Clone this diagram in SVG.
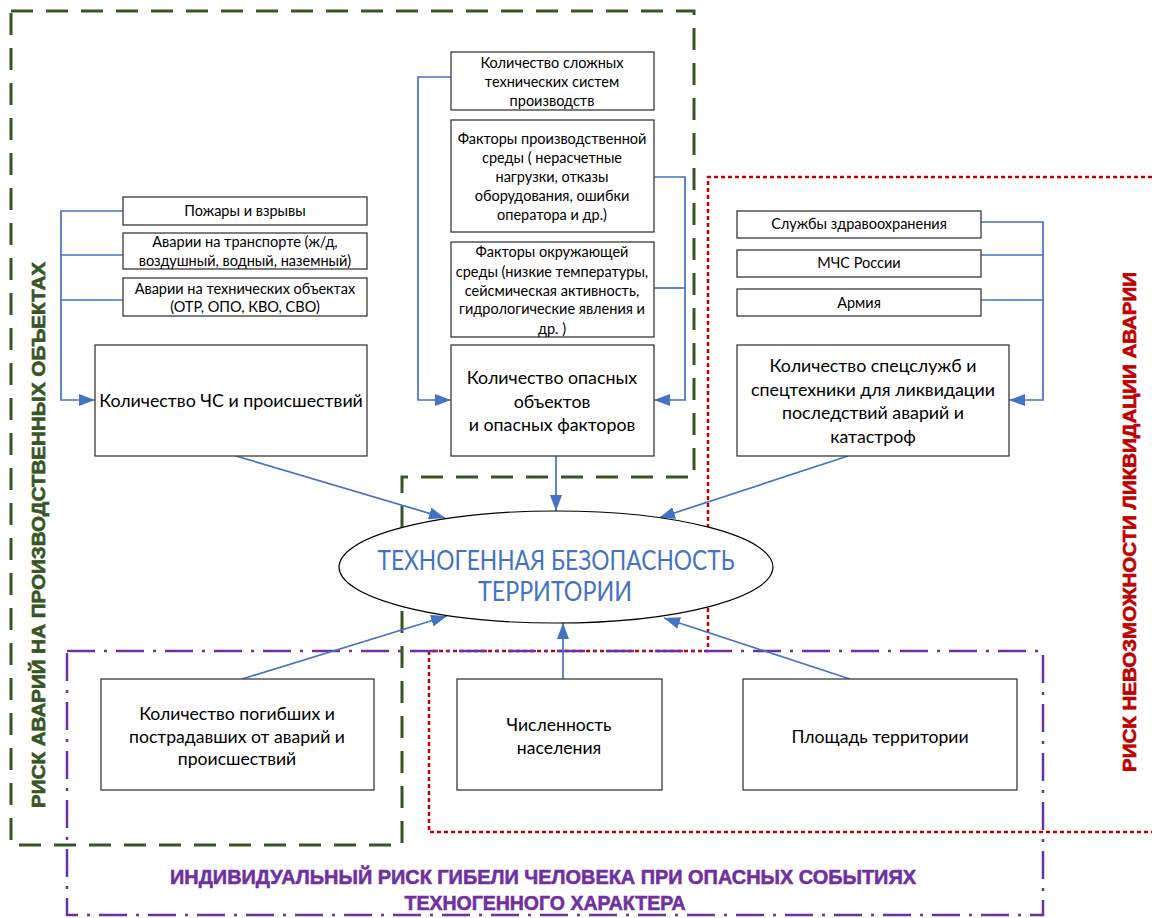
<svg xmlns="http://www.w3.org/2000/svg" width="1152" height="918" viewBox="0 0 1152 918">
<defs>
<marker id="ah" viewBox="0 0 16 12" refX="16" refY="6" markerWidth="16" markerHeight="12" orient="auto" markerUnits="userSpaceOnUse">
<path d="M0,0 L16,6 L0,12 z" fill="#4472C4"/>
</marker>
<style>
.box{fill:#fff;stroke:#3a3a3a;stroke-width:1.3}
.t{font-family:Lato,"Liberation Sans",sans-serif;fill:#000;text-anchor:middle}
.s{font-size:14.5px}
.b{font-size:17.8px}
.m{font-size:17.6px}
.c{fill:none;stroke:#4472C4;stroke-width:1.7}
.ca{fill:none;stroke:#4472C4;stroke-width:1.7;marker-end:url(#ah)}
.lbl{font-family:"Liberation Sans",Arial,sans-serif;font-weight:bold;text-anchor:middle;stroke-width:0.6}
</style>
</defs>
<rect width="1152" height="918" fill="#fff"/>
<g id="boundaries">
<path d="M11,11 H694 V477 H402 V845 H11 Z" fill="none" stroke="#375623" stroke-width="3" stroke-dasharray="22 13"/>
<path d="M1152,177 H708 V651 H429 V832 H1152" fill="none" stroke="#C00000" stroke-width="2.5" stroke-dasharray="4 3"/>
<rect x="67" y="651" width="976" height="264" fill="none" stroke="#7030A0" stroke-width="2.5" stroke-dasharray="28 9 3 9"/>
</g>
<g id="zone-labels">
<text class="lbl" font-size="19" fill="#375623" stroke="#375623" transform="translate(45,535) rotate(-90)" textLength="546" lengthAdjust="spacingAndGlyphs">РИСК АВАРИЙ НА ПРОИЗВОДСТВЕННЫХ ОБЪЕКТАХ</text>
<text class="lbl" font-size="19" fill="#C00000" stroke="#C00000" transform="translate(1136,522) rotate(-90)" textLength="500" lengthAdjust="spacingAndGlyphs">РИСК НЕВОЗМОЖНОСТИ ЛИКВИДАЦИИ АВАРИИ</text>
<text class="lbl" font-size="21" fill="#7030A0" stroke="#7030A0" x="543" y="884" textLength="746" lengthAdjust="spacingAndGlyphs">ИНДИВИДУАЛЬНЫЙ РИСК ГИБЕЛИ ЧЕЛОВЕКА ПРИ ОПАСНЫХ СОБЫТИЯХ</text>
<text class="lbl" font-size="21" fill="#7030A0" stroke="#7030A0" x="545" y="910" textLength="281" lengthAdjust="spacingAndGlyphs">ТЕХНОГЕННОГО ХАРАКТЕРА</text>
</g>
<g id="connectors">
<path class="c" d="M123,255 H61 M123,300 H61"/>
<path class="ca" d="M123,211 H61 V400 H95"/>
<path class="ca" d="M451,77 H418 V400 H451"/>
<path class="c" d="M654,288 H685"/>
<path class="ca" d="M654,177 H685 V400 H654"/>
<path class="c" d="M981,255 H1043 M981,300 H1043"/>
<path class="ca" d="M981,222 H1043 V400 H1009"/>
<path class="ca" d="M236,456 L445,518"/>
<path class="ca" d="M556,456 V511"/>
<path class="ca" d="M848,456 L659,518"/>
<path class="ca" d="M242,679 L447,616"/>
<path class="ca" d="M563,679 V623"/>
<path class="ca" d="M850,679 L664,618"/>
</g>
<g id="n_center">
<ellipse cx="556" cy="567" rx="217" ry="56" fill="#fff" stroke="#000" stroke-width="1.2"/>
<text class="t" x="556" y="570" font-size="26" style="fill:#4472C4" textLength="357" lengthAdjust="spacingAndGlyphs">ТЕХНОГЕННАЯ БЕЗОПАСНОСТЬ</text>
<text class="t" x="555" y="601" font-size="26" style="fill:#4472C4" textLength="154" lengthAdjust="spacingAndGlyphs">ТЕРРИТОРИИ</text>
</g>
<g id="n_fires">
<rect class="box" x="123" y="197" width="244" height="28"/>
<text class="t s" x="245" y="216">Пожары и взрывы</text>
</g>
<g id="n_transport">
<rect class="box" x="123" y="233" width="244" height="36"/>
<text class="t s" x="245" y="247">Аварии на транспорте (ж/д,</text>
<text class="t s" x="245" y="266">воздушный, водный, наземный)</text>
</g>
<g id="n_techobj">
<rect class="box" x="123" y="278" width="244" height="38"/>
<text class="t s" x="245" y="294">Аварии на технических объектах</text>
<text class="t s" x="245" y="312">(ОТР, ОПО, КВО, СВО)</text>
</g>
<g id="n_chs">
<rect class="box" x="95" y="345" width="272" height="111"/>
<text class="t b" x="231" y="407">Количество ЧС и происшествий</text>
</g>
<g id="n_complex">
<rect class="box" x="451" y="52" width="203" height="58"/>
<text class="t s" x="552" y="68">Количество сложных</text>
<text class="t s" x="552" y="87">технических систем</text>
<text class="t s" x="552" y="106">производств</text>
</g>
<g id="n_prodenv">
<rect class="box" x="451" y="120" width="203" height="112"/>
<text class="t s" x="552" y="144">Факторы производственной</text>
<text class="t s" x="552" y="163">среды ( нерасчетные</text>
<text class="t s" x="552" y="182">нагрузки, отказы</text>
<text class="t s" x="552" y="201">оборудования, ошибки</text>
<text class="t s" x="552" y="220">оператора и др.)</text>
</g>
<g id="n_env">
<rect class="box" x="451" y="242" width="203" height="95"/>
<text class="t s" x="552" y="257">Факторы окружающей</text>
<text class="t s" x="552" y="277">среды (низкие температуры,</text>
<text class="t s" x="552" y="296">сейсмическая активность,</text>
<text class="t s" x="552" y="314">гидрологические явления и</text>
<text class="t s" x="552" y="334">др. )</text>
</g>
<g id="n_hazard">
<rect class="box" x="451" y="345" width="203" height="111"/>
<text class="t b" x="552" y="384">Количество опасных</text>
<text class="t b" x="552" y="408">объектов</text>
<text class="t b" x="552" y="431">и опасных факторов</text>
</g>
<g id="n_health">
<rect class="box" x="737" y="211" width="244" height="27"/>
<text class="t s" x="859" y="229">Службы здравоохранения</text>
</g>
<g id="n_emerc">
<rect class="box" x="737" y="250" width="244" height="27"/>
<text class="t s" x="859" y="268">МЧС России</text>
</g>
<g id="n_army">
<rect class="box" x="737" y="289" width="244" height="27"/>
<text class="t s" x="859" y="308">Армия</text>
</g>
<g id="n_special">
<rect class="box" x="737" y="345" width="272" height="111"/>
<text class="t b" x="873" y="372">Количество спецслужб и</text>
<text class="t b" x="873" y="396">спецтехники для ликвидации</text>
<text class="t b" x="873" y="419">последствий аварий и</text>
<text class="t b" x="873" y="443">катастроф</text>
</g>
<g id="n_victims">
<rect class="box" x="101" y="679" width="273" height="111"/>
<text class="t m" x="237" y="720">Количество погибших и</text>
<text class="t m" x="237" y="743">пострадавших от аварий и</text>
<text class="t m" x="237" y="765">происшествий</text>
</g>
<g id="n_population">
<rect class="box" x="457" y="679" width="205" height="111"/>
<text class="t m" x="559" y="731">Численность</text>
<text class="t m" x="559" y="754">населения</text>
</g>
<g id="n_area">
<rect class="box" x="743" y="679" width="274" height="111"/>
<text class="t m" x="880" y="743">Площадь территории</text>
</g>
</svg>
